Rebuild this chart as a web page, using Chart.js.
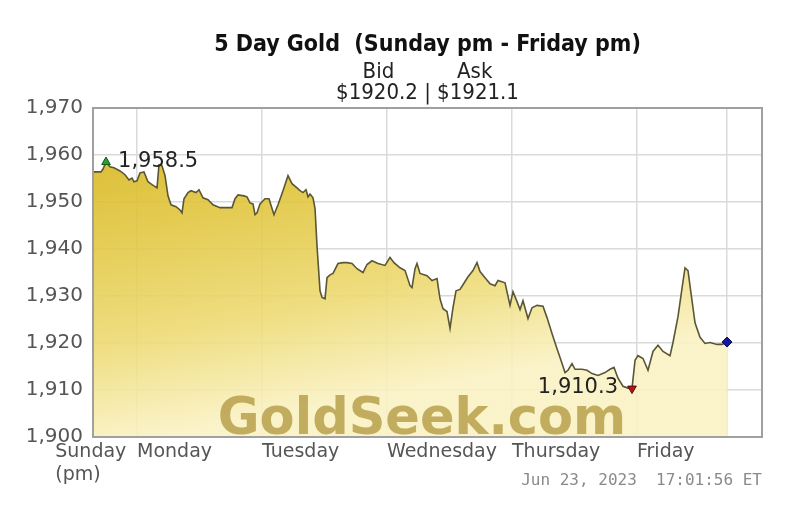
<!DOCTYPE html>
<html>
<head>
<meta charset="utf-8">
<script src="https://cdn.jsdelivr.net/npm/chart.js@4.4.0/dist/chart.umd.min.js"></script>
<style>
  html, body { margin: 0; padding: 0; background: #fff; }
  #obal { width: 800px; height: 524px; }
</style>
</head>
<body>
<div id="obal"><canvas id="graf"></canvas></div>
<script>
// Hours counted from Monday 00:00 (negative = Sunday evening)
const hours = [-8.45,-6.91,-6.53,-5.95,-5.18,-4.42,-3.26,-2.30,-1.54,-0.96,-0.58,0,0.58,1.34,2.11,2.88,3.84,4.22,4.80,5.38,
  5.95,6.53,7.49,8.26,8.64,9.02,9.79,10.37,11.33,11.90,12.67,13.63,14.59,15.94,17.28,18.24,18.82,19.39,20.54,21.12,
  21.70,22.27,22.66,23.04,23.62,24.58,25.34,25.92,26.30,27.07,28.03,28.99,29.76,30.72,31.30,31.87,32.45,32.83,33.22,33.79,
  34.18,34.56,35.14,35.52,36.10,36.48,37.06,37.63,38.59,39.55,40.32,41.28,42.24,43.39,44.16,45.12,46.27,47.62,48.58,49.34,
  50.50,51.46,52.42,52.80,53.38,53.76,54.34,55.68,56.64,57.60,58.18,58.75,59.52,60.10,60.67,61.25,62.02,62.59,63.55,64.51,
  65.28,65.86,66.82,67.78,68.74,69.31,70.66,71.62,72.19,72.96,73.54,74.11,75.07,75.84,76.80,77.95,78.72,79.68,80.64,81.22,
  82.18,82.75,83.52,84.10,85.44,86.40,87.36,88.51,89.86,90.82,91.58,92.35,93.31,94.27,95.04,95.62,96.19,97.15,98.11,99.07,
  100.03,100.99,102.34,102.91,103.87,104.64,105.22,105.79,106.56,107.14,108.10,109.06,110.02,111.36,112.32,113.28];

// Gold bid price, USD
const prices = [1956.4,1956.4,1957.0,1958.5,1957.5,1957.3,1956.6,1955.8,1954.7,1955.1,1954.3,1954.5,1956.2,1956.4,1954.3,1953.7,1953.0,1957.9,1957.7,1955.6,
  1951.3,1949.4,1949.0,1948.3,1947.7,1950.7,1952.0,1952.4,1952.0,1952.6,1950.9,1950.5,1949.4,1948.8,1948.8,1948.8,1950.7,1951.5,1951.3,1951.1,
  1949.8,1949.6,1947.3,1947.7,1949.6,1950.7,1950.7,1948.6,1947.3,1949.4,1952.4,1955.6,1953.9,1953.0,1952.4,1952.0,1952.6,1951.1,1951.7,1950.9,
  1948.6,1940.7,1931.1,1929.7,1929.4,1933.9,1934.5,1934.8,1936.9,1937.1,1937.1,1936.9,1935.8,1935.0,1936.7,1937.5,1936.9,1936.5,1938.2,1937.1,
  1936.0,1935.4,1932.2,1931.8,1935.8,1936.9,1934.8,1934.3,1933.3,1933.7,1929.4,1927.3,1926.7,1923.1,1927.5,1931.1,1931.4,1932.4,1934.1,1935.4,
  1937.1,1935.2,1933.9,1932.6,1932.2,1933.3,1932.8,1928.0,1930.9,1928.8,1927.1,1929.0,1925.2,1927.5,1928.0,1927.8,1925.4,1922.0,1918.8,1916.9,
  1913.7,1914.2,1915.6,1914.4,1914.4,1914.2,1913.5,1913.1,1913.7,1914.4,1914.8,1912.5,1910.8,1910.4,1910.3,1916.3,1917.3,1916.7,1914.2,1918.2,
  1919.5,1918.2,1917.3,1920.1,1925.6,1931.6,1936.0,1935.4,1929.0,1924.3,1921.2,1919.9,1920.1,1919.7,1919.7,1920.2];

// Day ticks (hours) and their labels
const dayTicks = [-15.7, 0, 24, 48, 72, 96, 113.28];
const dayLabels = [['Sunday', '(pm)'], 'Monday', 'Tuesday', 'Wednesday', 'Thursday', 'Friday', ''];
const priceTicks = [1900, 1910, 1920, 1930, 1940, 1950, 1960, 1970];

const titleText = '5 Day Gold  (Sunday pm - Friday pm)';
const subtitleLines = ['Bid          Ask', '$1920.2 | $1921.1'];
const stampText = 'Jun 23, 2023  17:01:56 ET';
const watermark = 'GoldSeek.com';

const maxIdx = prices.indexOf(Math.max(...prices));
const minIdx = prices.indexOf(Math.min(...prices));
const lastIdx = prices.length - 1;

const fmt = v => v.toLocaleString('en-US', { minimumFractionDigits: 1 });

// Frame around the plot area
const framePlugin = {
  id: 'frame',
  afterDatasetsDraw(chart) {
    const { ctx, chartArea: a } = chart;
    ctx.save();
    ctx.strokeStyle = '#a0a0a0';
    ctx.lineWidth = 2;
    ctx.strokeRect(a.left, a.top, a.right - a.left, a.bottom - a.top);
    ctx.restore();
  }
};

// Watermark + high / low labels
const textPlugin = {
  id: 'texts',
  afterDatasetsDraw(chart) {
    const { ctx, chartArea: a } = chart;
    ctx.save();
    ctx.font = 'bold 51px "DejaVu Sans"';
    ctx.fillStyle = 'rgba(184,160,76,0.85)';
    ctx.textAlign = 'center';
    ctx.textBaseline = 'alphabetic';
    ctx.fillText(watermark, a.left + 329, a.bottom - 3);

    const pts = chart.getDatasetMeta(0).data;
    ctx.font = '21px "DejaVu Sans"';
    ctx.fillStyle = '#222';
    ctx.textBaseline = 'middle';
    ctx.textAlign = 'left';
    ctx.fillText(fmt(prices[maxIdx]), pts[maxIdx].x + 12, pts[maxIdx].y);
    ctx.textAlign = 'right';
    ctx.fillText(fmt(prices[minIdx]), pts[minIdx].x - 14, pts[minIdx].y - 1);
    ctx.restore();
  }
};

const pointData = hours.map((h, i) => ({ x: h, y: prices[i] }));

new Chart(document.getElementById('graf'), {
  type: 'line',
  data: {
    datasets: [{
      data: pointData,
      borderColor: '#5a5636',
      borderWidth: 1.6,
      tension: 0,
      fill: 'start',
      backgroundColor: function(context) {
        const area = context.chart.chartArea;
        if (!area) return 'rgba(230,200,60,0.8)';
        const g = context.chart.ctx.createLinearGradient(area.left, area.top, area.left + 60, area.bottom);
        g.addColorStop(0, 'rgba(212,178,22,0.93)');
        g.addColorStop(0.35, 'rgba(224,196,60,0.9)');
        g.addColorStop(0.7, 'rgba(237,218,115,0.9)');
        g.addColorStop(1, 'rgba(250,242,196,0.9)');
        return g;
      },
      pointRadius: ctx => (ctx.dataIndex === maxIdx || ctx.dataIndex === minIdx || ctx.dataIndex === lastIdx) ? 5 : 0,
      pointStyle: ctx => ctx.dataIndex === lastIdx ? 'rectRot' : 'triangle',
      pointRotation: ctx => ctx.dataIndex === minIdx ? 180 : 0,
      pointBackgroundColor: ctx => ctx.dataIndex === maxIdx ? '#27a032' : (ctx.dataIndex === minIdx ? '#b3141c' : '#16169a'),
      pointBorderColor: ctx => ctx.dataIndex === maxIdx ? '#145a1a' : (ctx.dataIndex === minIdx ? '#5a0a0a' : '#0c0c5a'),
      pointBorderWidth: 1
    }]
  },
  options: {
    responsive: true,
    maintainAspectRatio: false,
    animation: false,
    layout: { padding: { left: 0, right: 38, top: 0, bottom: 0 } },
    plugins: {
      legend: { display: false },
      tooltip: { enabled: false },
      title: {
        display: true,
        text: titleText,
        fullSize: false,
        color: '#111',
        font: { family: '"DejaVu Sans Condensed"', size: 23, weight: 'bold', lineHeight: 1.1 },
        padding: { top: 32, bottom: 2 }
      },
      subtitle: {
        display: true,
        text: subtitleLines,
        fullSize: false,
        color: '#222',
        font: { family: '"DejaVu Sans Condensed"', size: 22, lineHeight: 0.97 },
        padding: { top: 2, bottom: 4 }
      }
    },
    scales: {
      x: {
        type: 'linear',
        min: -8.45,
        max: 120,
        afterBuildTicks: scale => { scale.ticks = dayTicks.map(v => ({ value: v })); },
        afterFit: scale => { scale.height = 87; },
        ticks: {
          autoSkip: false,
          maxRotation: 0,
          align: 'start',
          padding: 4,
          color: '#555',
          font: { family: '"DejaVu Sans"', size: 19, lineHeight: 1.2 },
          callback: (v, i) => dayLabels[i]
        },
        grid: {
          color: ctx => (ctx.tick && ctx.tick.value < -9) ? 'rgba(0,0,0,0)' : '#dadada',
          lineWidth: 1.5,
          drawTicks: false
        },
        border: { display: false },
        title: {
          display: true,
          text: stampText,
          align: 'end',
          color: '#8a8a8a',
          font: { family: '"DejaVu Sans Mono"', size: 16 },
          padding: { top: 0, bottom: 34 }
        }
      },
      y: {
        min: 1900,
        max: 1970,
        afterBuildTicks: scale => { scale.ticks = priceTicks.map(v => ({ value: v })); },
        afterFit: scale => { scale.width = 93; },
        ticks: {
          padding: 10,
          color: '#555',
          font: { family: '"DejaVu Sans"', size: 20 },
          callback: v => v.toLocaleString('en-US')
        },
        grid: { color: '#dadada', lineWidth: 1.5, drawTicks: false },
        border: { display: false }
      }
    }
  },
  plugins: [framePlugin, textPlugin]
});
</script>
</body>
</html>
